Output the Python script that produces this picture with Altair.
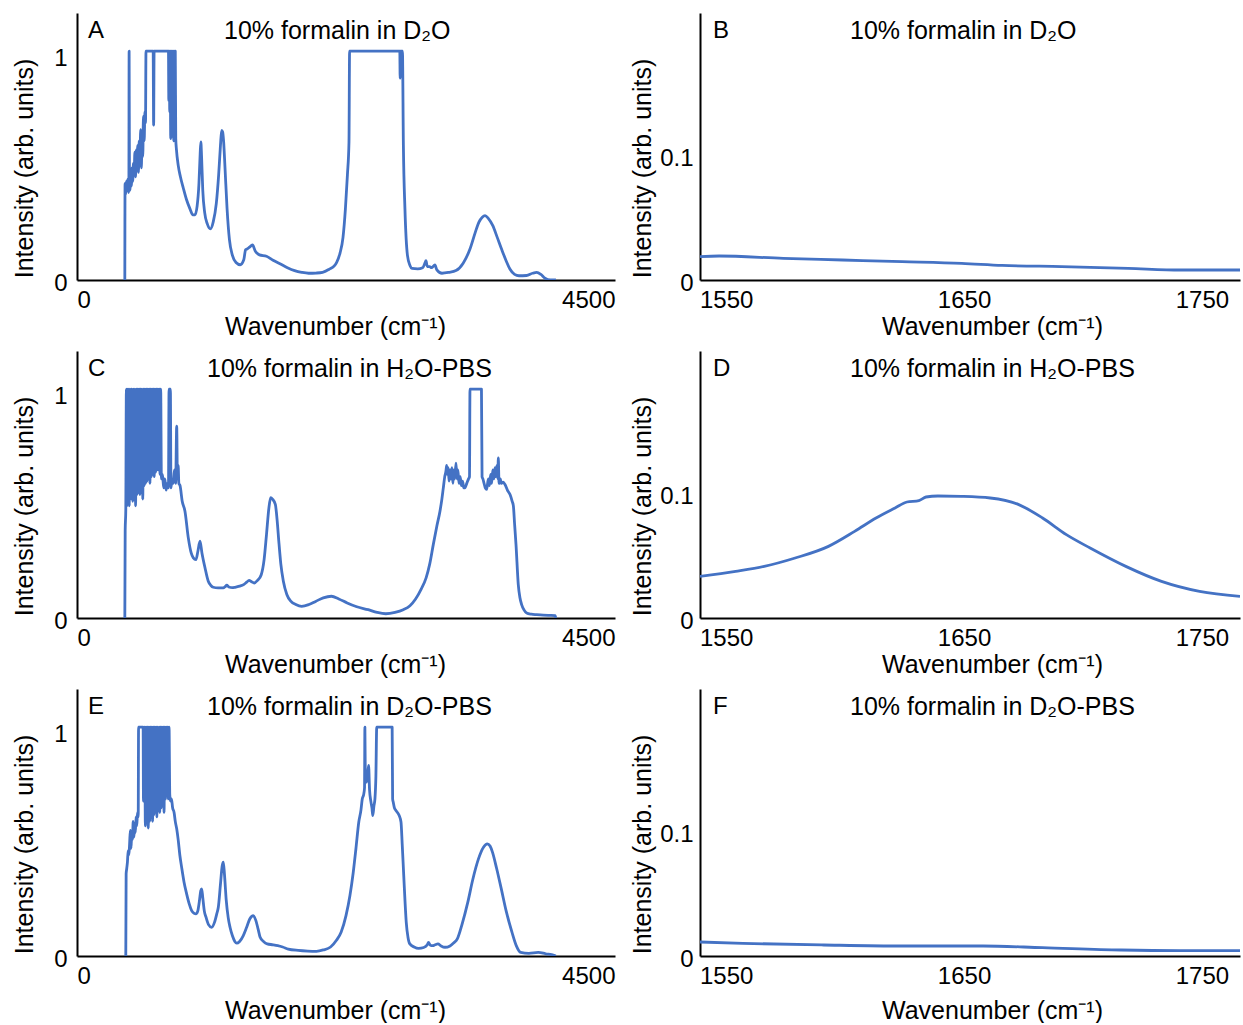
import altair as alt
import pandas as pd

FONT = "Liberation Sans"
BLUE = "#4472C4"

# ---------------- data: (wavenumber cm-1, intensity) ----------------
panel_a = [(400,0.0),(402,0.43),(407,0.38),(412,0.44),(418,0.40),(424,0.45),(430,0.39),(434,0.43),(436,1.02),(439,0.44),
           (444,0.40),(450,0.46),(455,0.42),(460,0.50),(466,0.44),(472,0.52),(478,0.47),(484,0.57),(490,0.46),(496,0.58),
           (502,0.50),(508,0.60),(514,0.48),(520,0.62),(526,0.55),(533,0.67),(538,0.50),(544,0.62),(550,0.55),(556,0.73),
           (562,0.62),(568,0.75),(573,0.70),(577,1.02),(637,1.02),(641,0.69),(645,1.02),(765,1.02),(768,0.80),(771,1.02),
           (776,0.75),(779,1.02),(784,0.63),(787,1.02),(792,0.70),(795,1.02),(800,0.64),(804,1.02),(809,0.62),(813,1.02),
           (818,0.66),(822,1.02),(826,0.63),(832,0.58),(847,0.51),(865,0.46),(889,0.41),(915,0.36),(945,0.317),(969,0.29),
           (987,0.29),(1005,0.33),(1020,0.43),(1030,0.56),(1036,0.615),(1042,0.55),(1052,0.40),(1068,0.30),(1090,0.25),
           (1116,0.228),(1140,0.26),(1165,0.34),(1185,0.47),(1200,0.60),(1210,0.667),(1218,0.66),(1226,0.62),(1238,0.50),
           (1255,0.32),(1275,0.18),(1300,0.11),(1330,0.078),(1365,0.068),(1395,0.09),(1410,0.135),(1422,0.138),(1440,0.145),
           (1468,0.156),(1490,0.13),(1526,0.112),(1585,0.106),(1640,0.088),(1702,0.071),(1760,0.055),(1820,0.042),
           (1880,0.034),(1937,0.030),(2000,0.031),(2054,0.034),(2110,0.048),(2150,0.062),(2172,0.079),(2200,0.12),
           (2225,0.19),(2245,0.317),(2262,0.47),(2275,0.615),(2280,1.02),(2700,1.02),(2703,0.90),(2706,1.02),(2722,1.02),
           (2730,0.60),(2743,0.317),(2764,0.11),(2785,0.065),(2802,0.052),(2850,0.05),(2891,0.055),(2910,0.075),
           (2919,0.086),(2930,0.06),(2949,0.06),(2965,0.055),(2994,0.067),(3010,0.045),(3053,0.030),(3110,0.034),
           (3170,0.042),(3230,0.075),(3287,0.138),(3330,0.21),(3361,0.257),(3390,0.28),(3413,0.287),(3440,0.275),
           (3478,0.242),(3515,0.19),(3551,0.138),(3590,0.085),(3621,0.049),(3660,0.025),(3697,0.019),(3760,0.02),
           (3810,0.03),(3845,0.034),(3880,0.025),(3914,0.008),(3960,0.0),(4006,0.0)]

panel_b = [(1539,0.0187),(1547,0.0192),(1574,0.0173),(1599,0.016),(1624,0.0147),(1649,0.0133),(1666,0.0117),
           (1691,0.0107),(1719,0.0093),(1741,0.008),(1766,0.008)]

panel_c = [(400,0.0),(403,0.39),(408,0.48),(413,1.02),(418,0.50),(422,1.02),(427,0.52),(432,1.02),(437,0.50),(442,1.02),
           (447,0.53),(452,1.02),(456,0.78),(460,1.02),(466,0.52),(472,1.02),(478,0.54),(484,1.02),(490,0.50),(496,1.02),
           (502,0.55),(508,1.02),(514,0.56),(520,1.02),(526,0.55),(532,1.02),(538,0.58),(544,1.02),(550,0.53),(556,1.02),
           (562,0.59),(568,1.02),(574,0.60),(580,1.02),(586,0.61),(592,1.02),(598,0.62),(604,1.02),(610,0.60),(616,1.02),
           (622,0.63),(628,1.02),(634,0.64),(640,1.02),(646,0.63),(652,1.02),(658,0.65),(664,1.02),(670,0.66),(676,1.02),
           (682,0.66),(688,1.02),(694,0.64),(700,1.02),(706,0.62),(715,0.64),(725,0.58),(735,0.62),(745,0.57),(755,0.60),
           (765,0.58),(770,1.02),(781,1.02),(786,0.58),(795,0.62),(805,0.60),(815,0.66),(825,0.60),(834,0.855),(840,0.62),
           (846,0.68),(852,0.60),(862,0.59),(880,0.52),(903,0.476),(931,0.357),(955,0.29),(973,0.268),(995,0.26),
           (1012,0.30),(1029,0.342),(1045,0.29),(1071,0.223),(1098,0.164),(1120,0.145),(1140,0.137),(1180,0.134),
           (1224,0.134),(1240,0.14),(1253,0.146),(1270,0.138),(1300,0.135),(1322,0.137),(1360,0.142),(1394,0.149),
           (1420,0.16),(1439,0.168),(1460,0.162),(1482,0.156),(1510,0.168),(1541,0.193),(1565,0.26),(1585,0.372),
           (1605,0.49),(1620,0.536),(1635,0.53),(1659,0.506),(1675,0.43),(1688,0.342),(1705,0.24),(1726,0.164),
           (1755,0.105),(1790,0.074),(1830,0.06),(1879,0.052),(1940,0.06),(1996,0.074),(2060,0.09),(2128,0.097),
           (2190,0.085),(2260,0.067),(2340,0.05),(2436,0.037),(2510,0.025),(2583,0.019),(2660,0.025),(2729,0.037),
           (2785,0.055),(2832,0.085),(2880,0.13),(2920,0.179),(2950,0.24),(2980,0.327),(3010,0.41),(3036,0.476),
           (3052,0.53),(3064,0.58),(3076,0.63),(3086,0.655),(3092,0.68),(3098,0.64),(3105,0.67),(3112,0.61),(3120,0.66),
           (3128,0.62),(3136,0.67),(3144,0.60),(3152,0.66),(3160,0.62),(3170,0.69),(3178,0.62),(3186,0.66),(3195,0.60),
           (3205,0.63),(3215,0.59),(3225,0.61),(3235,0.58),(3245,0.58),(3260,0.60),(3275,0.62),(3283,0.63),(3287,1.02),
           (3383,1.02),(3388,0.63),(3395,0.62),(3405,0.60),(3415,0.58),(3427,0.573),(3440,0.62),(3450,0.59),(3460,0.64),
           (3468,0.60),(3478,0.66),(3488,0.62),(3496,0.67),(3504,0.63),(3512,0.68),(3520,0.62),(3524,0.714),(3530,0.60),
           (3540,0.62),(3550,0.60),(3565,0.605),(3580,0.595),(3600,0.57),(3622,0.55),(3640,0.52),(3650,0.50),(3660,0.42),
           (3672,0.327),(3691,0.149),(3705,0.09),(3719,0.06),(3740,0.035),(3761,0.022),(3800,0.017),(3845,0.015),
           (3900,0.013),(3942,0.012),(4000,0.011),(4004,0.0)]

panel_d = [(1539,0.0333),(1554,0.0373),(1566,0.0413),(1579,0.048),(1593,0.0573),(1604,0.0693),(1613,0.080),
           (1621,0.088),(1626,0.0928),(1631,0.0939),(1634,0.0968),(1639,0.0976),(1649,0.0973),(1661,0.096),
           (1673,0.0907),(1683,0.080),(1693,0.0667),(1703,0.056),(1718,0.0413),(1733,0.0293),(1749,0.0213),(1766,0.0173)]

panel_e = [(408,0.0),(411,0.366),(416,0.39),(422,0.42),(428,0.47),(434,0.45),(440,0.50),(446,0.56),(452,0.48),(458,0.55),
           (464,0.52),(470,0.60),(476,0.53),(482,0.58),(488,0.55),(494,0.62),(500,0.58),(506,0.64),(512,0.62),(515,1.02),
           (553,1.02),(556,0.69),(560,0.80),(566,1.02),(572,0.58),(578,1.02),(584,0.62),(590,1.02),(596,0.57),(602,1.02),
           (608,0.60),(614,1.02),(620,0.62),(626,1.02),(632,0.60),(638,1.02),(644,0.63),(650,1.02),(656,0.65),(662,1.02),
           (668,0.62),(674,1.02),(680,0.86),(686,1.02),(692,0.64),(698,1.02),(704,0.66),(710,1.02),(716,0.68),(722,1.02),
           (728,0.64),(734,1.02),(740,0.70),(746,1.02),(752,0.72),(758,1.02),(764,0.70),(770,1.02),(776,0.72),(782,0.69),
           (790,0.70),(800,0.66),(812,0.64),(822,0.60),(834,0.567),(847,0.515),(860,0.45),(875,0.396),(895,0.33),
           (917,0.277),(940,0.23),(959,0.202),(980,0.19),(995,0.1875),(1010,0.20),(1025,0.25),(1035,0.29),(1043,0.299),
           (1052,0.26),(1065,0.20),(1079,0.173),(1100,0.14),(1126,0.128),(1150,0.15),(1170,0.19),(1182,0.217),
           (1200,0.32),(1214,0.40),(1224,0.418),(1234,0.36),(1248,0.25),(1265,0.17),(1280,0.128),(1300,0.09),
           (1320,0.065),(1336,0.057),(1360,0.065),(1390,0.09),(1419,0.128),(1445,0.165),(1475,0.18),(1495,0.16),
           (1515,0.12),(1531,0.085),(1560,0.065),(1591,0.054),(1640,0.05),(1679,0.046),(1720,0.04),(1767,0.031),
           (1850,0.025),(1930,0.022),(2003,0.021),(2060,0.027),(2121,0.04),(2170,0.07),(2209,0.106),(2250,0.18),
           (2283,0.27),(2310,0.37),(2333,0.478),(2357,0.597),(2375,0.65),(2386,0.70),(2398,0.72),(2405,0.75),
           (2408,1.02),(2412,0.78),(2421,0.775),(2430,0.80),(2439,0.85),(2447,0.74),(2459,0.686),(2467,0.66),
           (2474,0.626),(2484,0.67),(2492,0.70),(2500,0.80),(2507,1.02),(2636,1.02),(2640,0.70),(2645,0.686),
           (2655,0.66),(2666,0.65),(2680,0.64),(2695,0.626),(2710,0.597),(2720,0.50),(2733,0.358),(2744,0.24),
           (2754,0.15),(2768,0.085),(2784,0.054),(2820,0.04),(2857,0.034),(2900,0.038),(2930,0.05),(2940,0.061),
           (2955,0.048),(2975,0.046),(2995,0.05),(3019,0.054),(3045,0.045),(3078,0.039),(3120,0.045),(3150,0.058),
           (3181,0.076),(3220,0.14),(3269,0.24),(3310,0.34),(3358,0.433),(3400,0.485),(3432,0.50),(3455,0.49),
           (3475,0.463),(3510,0.39),(3549,0.299),(3590,0.20),(3638,0.106),(3675,0.045),(3711,0.016),(3780,0.012),
           (3858,0.016),(3920,0.01),(3990,0.003),(4005,0.0)]

panel_f = [(1539,0.0112),(1557,0.0101),(1591,0.0088),(1624,0.008),(1658,0.008),(1683,0.0067),(1716,0.0048),
           (1741,0.0043),(1766,0.0043)]

letters = ["A", "B", "C", "D", "E", "F"]
titles = ["10% formalin in D\u2082O", "10% formalin in D\u2082O",
          "10% formalin in H\u2082O-PBS", "10% formalin in H\u2082O-PBS",
          "10% formalin in D\u2082O-PBS", "10% formalin in D\u2082O-PBS"]
full_ticks_x = [0, 4500]
full_ticks_y = [0, 1]
zoom_ticks_x = [1550, 1650, 1750]
zoom_ticks_y = [0, 0.1]

X_TITLE = "Wavenumber (cm\u207b\u00b9)"
Y_TITLE = "Intensity (arb. units)"

H = 267

AXIS_STYLE = dict(grid=False, ticks=False, tickSize=0, domainColor="black", domainWidth=2,
                  labelFont=FONT, titleFont=FONT, labelFontSize=24, titleFontSize=25,
                  labelColor="black", titleColor="black", titleFontWeight="normal")


def panel(points, idx, row):
    left = idx % 2 == 0
    df = pd.DataFrame(points, columns=["wn", "inten"])
    xtitle_y = 42 if row == 2 else 34
    if left:
        w = 538
        xs = alt.Scale(domain=[0, 4500], nice=False, zero=False)
        ys = alt.Scale(domain=[0, 1.19], nice=False, zero=False)
        xa = alt.Axis(values=full_ticks_x, format="d", labelFlush=True, title=X_TITLE,
                      titleX=258, titleY=xtitle_y, titleBaseline="top", labelPadding=8, **AXIS_STYLE)
        ya = alt.Axis(values=full_ticks_y, format="d", title=Y_TITLE, titleX=-40, titleY=155,
                      labelPadding=10, labelOffset=3, **AXIS_STYLE)
        title_x = 147 if row == 0 else 130
        letter_x = 11
    else:
        w = 540
        xs = alt.Scale(domain=[1539, 1766], nice=False, zero=False)
        ys = alt.Scale(domain=[0, 0.2136], nice=False, zero=False)
        xa = alt.Axis(values=zoom_ticks_x, format="d", labelFlush=False, title=X_TITLE,
                      titleX=292, titleY=xtitle_y, titleBaseline="top", labelPadding=8, **AXIS_STYLE)
        ya = alt.Axis(values=zoom_ticks_y, format="~g", title=Y_TITLE, titleX=-45, titleY=155,
                      labelPadding=7, labelOffset=3, **AXIS_STYLE)
        title_x = 150
        letter_x = 13

    line = alt.Chart(df).mark_line(color=BLUE, strokeWidth=2.8, interpolate="monotone",
                                   strokeJoin="round", clip=True).encode(
        x=alt.X("wn:Q", scale=xs, axis=xa),
        y=alt.Y("inten:Q", scale=ys, axis=ya),
    )
    lab = alt.Chart(pd.DataFrame({"t": [letters[idx]]})).mark_text(
        align="left", baseline="middle", fontSize=24, font=FONT, color="black"
    ).encode(x=alt.value(letter_x), y=alt.value(18), text="t:N")
    ttl = alt.Chart(pd.DataFrame({"t": [titles[idx]]})).mark_text(
        align="left", baseline="middle", fontSize=25, font=FONT, color="black"
    ).encode(x=alt.value(title_x), y=alt.value(18), text="t:N")
    return alt.layer(line, lab, ttl).properties(width=w, height=H)


data = [panel_a, panel_b, panel_c, panel_d, panel_e, panel_f]
charts = [panel(d, i, i // 2) for i, d in enumerate(data)]

chart = alt.concat(*charts, columns=2, bounds="flush",
                   spacing={"row": 71, "column": 85}).properties(
    padding={"left": 12, "top": 13, "right": 2, "bottom": 0},
    background="white"
).configure_view(strokeWidth=0).configure_axis(**AXIS_STYLE)

chart.save("out.html", embed_options={"renderer": "svg", "actions": False})
